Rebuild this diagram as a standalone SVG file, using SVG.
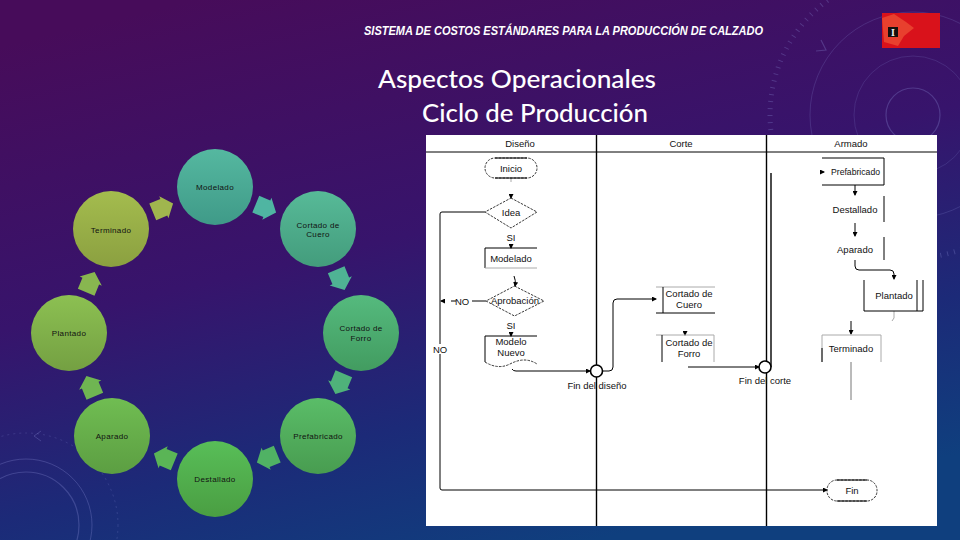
<svg xmlns="http://www.w3.org/2000/svg" width="960" height="540" viewBox="0 0 960 540">
<defs>
<linearGradient id="bg" x1="0.2" y1="0" x2="0.62" y2="1"><stop offset="0" stop-color="#470c5a"/><stop offset="0.45" stop-color="#37146c"/><stop offset="0.75" stop-color="#1c2a78"/><stop offset="1" stop-color="#0f3f7e"/></linearGradient>
<linearGradient id="g1" x1="0" y1="0" x2="0" y2="1"><stop offset="0" stop-color="#55b8a0"/><stop offset="1" stop-color="#3f9a88"/></linearGradient>
<linearGradient id="g2" x1="0" y1="0" x2="0" y2="1"><stop offset="0" stop-color="#57ba98"/><stop offset="1" stop-color="#439c7c"/></linearGradient>
<linearGradient id="g3" x1="0" y1="0" x2="0" y2="1"><stop offset="0" stop-color="#55ba7e"/><stop offset="1" stop-color="#429c60"/></linearGradient>
<linearGradient id="g4" x1="0" y1="0" x2="0" y2="1"><stop offset="0" stop-color="#5abd68"/><stop offset="1" stop-color="#489c50"/></linearGradient>
<linearGradient id="g5" x1="0" y1="0" x2="0" y2="1"><stop offset="0" stop-color="#58be58"/><stop offset="1" stop-color="#4a9e42"/></linearGradient>
<linearGradient id="g6" x1="0" y1="0" x2="0" y2="1"><stop offset="0" stop-color="#70bd52"/><stop offset="1" stop-color="#5c9e42"/></linearGradient>
<linearGradient id="g7" x1="0" y1="0" x2="0" y2="1"><stop offset="0" stop-color="#8cc052"/><stop offset="1" stop-color="#74a042"/></linearGradient>
<linearGradient id="g8" x1="0" y1="0" x2="0" y2="1"><stop offset="0" stop-color="#a4bc4e"/><stop offset="1" stop-color="#8ba040"/></linearGradient>
<path id="blk" d="M-10,-9 L2,-9 L2,-12 L12,0 L2,12 L2,9 L-10,9 Z"/>
<marker id="ah" markerWidth="5" markerHeight="5" refX="4" refY="2.5" orient="auto" markerUnits="userSpaceOnUse"><path d="M0,0 L5,2.5 L0,5 Z" fill="#000"/></marker>
</defs>
<style>
.c text,.t{font-family:"Liberation Sans",Arial,sans-serif}
.c text{font-size:8px;fill:#111;text-anchor:middle;letter-spacing:.35px}
.t{font-size:9.5px;fill:#111;text-anchor:middle}
.l{fill:none;stroke:#000;stroke-width:1}
.g{fill:none;stroke:#aaa;stroke-width:1}
.h{fill:none;stroke:#000;stroke-width:1.4}
.d{fill:none;stroke:#222;stroke-width:.9;stroke-dasharray:2.5 1.2}
.deco{fill:none;stroke:#8a8fd8;stroke-opacity:.3}
</style>
<rect width="960" height="540" fill="url(#bg)"/>
<g id="decoration">
<circle cx="26" cy="525" r="53" class="deco" stroke-width="1.2"/>
<circle cx="26" cy="525" r="66" class="deco" stroke-width="1"/>
<circle cx="26" cy="525" r="92" class="deco" stroke-width=".7" stroke-dasharray="2 4"/>
<path class="deco" stroke-width="1" d="M41,431 L34,436 L41,441 M89,458 L95,461 L91,466"/>
<circle cx="913" cy="115" r="27" class="deco" stroke-width="1.2"/>
<circle cx="913" cy="115" r="59" class="deco" stroke-width=".6" stroke-opacity=".18"/>
<circle cx="913" cy="115" r="103" class="deco" stroke-width=".7" stroke-opacity=".22"/>
<circle cx="913" cy="115" r="143" class="deco" stroke-width="5" stroke-dasharray="1 6" stroke-opacity=".12"/>
<path class="deco" stroke-width="1.2" d="M821,40 L826,50 L816,51"/>
</g>
<g id="header">
<text x="364" y="35" textLength="399" lengthAdjust="spacingAndGlyphs" font-family="'Liberation Sans',sans-serif" font-size="13" font-weight="bold" font-style="italic" fill="#fff">SISTEMA DE COSTOS ESTÁNDARES PARA LA PRODUCCIÓN DE CALZADO</text>
<text x="378" y="88" textLength="278" lengthAdjust="spacingAndGlyphs" font-family="Lato,sans-serif" font-size="24" font-weight="500" fill="#fff">Aspectos Operacionales</text>
<text x="422" y="122" textLength="226" lengthAdjust="spacingAndGlyphs" font-family="Lato,sans-serif" font-size="24" font-weight="500" fill="#fff">Ciclo de Producción</text>
</g>
<g id="logo">
<rect x="882" y="13" width="58" height="35" fill="#d9121b"/>
<path d="M882,18 L894,14 L906,22 L914,28 L904,36 L898,46 L884,42 Z" fill="#e8402e"/>
<rect x="888" y="27" width="10" height="10" fill="#15100e"/>
<text x="893" y="35.5" font-family="'Liberation Serif',serif" font-size="10" font-weight="bold" fill="#eee" text-anchor="middle">I</text>
</g>
<g id="cycle-arrows">
<use href="#blk" fill="#4fb5a2" transform="translate(265,208) rotate(22.5)"/>
<use href="#blk" fill="#4fb394" transform="translate(340,279) rotate(67.5)"/>
<use href="#blk" fill="#4fb27a" transform="translate(340,383) rotate(112.5)"/>
<use href="#blk" fill="#50b264" transform="translate(268,458) rotate(157.5)"/>
<use href="#blk" fill="#5ab556" transform="translate(165,458) rotate(202.5)"/>
<use href="#blk" fill="#6fb552" transform="translate(91,387) rotate(247.5)"/>
<use href="#blk" fill="#88b650" transform="translate(90,283) rotate(292.5)"/>
<use href="#blk" fill="#a0b64e" transform="translate(162,208) rotate(337.5)"/>
</g>
<g id="modelado" class="c"><circle cx="215" cy="187" r="38" fill="url(#g1)"/><text x="215" y="190">Modelado</text></g>
<g id="cortado-cuero" class="c"><circle cx="318" cy="229" r="38" fill="url(#g2)"/><text x="318" y="228">Cortado de</text><text x="318" y="237">Cuero</text></g>
<g id="cortado-forro" class="c"><circle cx="361" cy="333" r="38" fill="url(#g3)"/><text x="361" y="331">Cortado de</text><text x="361" y="341">Forro</text></g>
<g id="prefabricado" class="c"><circle cx="318" cy="436" r="38" fill="url(#g4)"/><text x="318" y="439">Prefabricado</text></g>
<g id="destallado" class="c"><circle cx="215" cy="479" r="38" fill="url(#g5)"/><text x="215" y="482">Destallado</text></g>
<g id="aparado" class="c"><circle cx="112" cy="436" r="38" fill="url(#g6)"/><text x="112" y="439">Aparado</text></g>
<g id="plantado" class="c"><circle cx="69" cy="333" r="38" fill="url(#g7)"/><text x="69" y="336">Plantado</text></g>
<g id="terminado" class="c"><circle cx="111" cy="229" r="38" fill="url(#g8)"/><text x="111" y="233">Terminado</text></g>
<g id="flow-panel">
<rect x="426" y="135" width="511" height="391" fill="#fff"/>
<path class="l" d="M426,152 H937"/>
<path class="h" d="M596.5,135 V526 M766.5,135 V526"/>
<text class="t" x="520" y="147">Diseño</text><text class="t" x="681" y="147">Corte</text><text class="t" x="851" y="147">Armado</text>
</g>
<g id="connectors">
<path class="l" d="M485,212 H442 Q440,212 440,214 V488 Q440,490 442,490 H827" marker-end="url(#ah)"/>
<path class="g" d="M511,178 V182"/>
<path class="l" d="M511,194 V198" marker-end="url(#ah)"/>
<path class="l" d="M511,244 V248" marker-end="url(#ah)"/>
<path class="l" d="M514,276 Q516,280 515,286" marker-end="url(#ah)"/>
<path class="l" d="M486,301 H472 M456,301 H451"/>
<path class="l" d="M445,301 H441" marker-end="url(#ah)"/>
<path class="l" d="M511,332 V336" marker-end="url(#ah)"/>
<path class="l" d="M512,369 Q513,371 516,371 H590" marker-end="url(#ah)"/>
<path class="l" d="M602,371 H609 Q613,371 613,367 V303 Q613,299 617,299 H656" marker-end="url(#ah)"/>
<path class="l" d="M685,331 V335" marker-end="url(#ah)"/>
<path class="l" d="M688,367 H759" marker-end="url(#ah)"/>
<path class="h" d="M771,367 V173"/>
<path class="l" d="M820,172 H824" marker-end="url(#ah)"/>
<path class="l" d="M855,185 V195" marker-end="url(#ah)"/>
<path class="l" d="M855,223 V236" marker-end="url(#ah)"/>
<path class="l" d="M855,260 V266 Q855,270 859,270 H890 Q894,270 894,274 V279" marker-end="url(#ah)" stroke-width=".8"/>
<path class="g" d="M894,311 V318 L892,321"/>
<path class="l" d="M851,321 V334" marker-end="url(#ah)"/>
<path d="M851,362 V400" stroke="#777" fill="none"/>
</g>
<g id="inicio"><rect x="485" y="158" width="52" height="20" rx="10" class="d"/><path class="l" d="M495,158 H527 M495,178 H527"/><text class="t" x="511" y="172">Inicio</text></g>
<g id="idea"><path class="d" d="M511,198 L537,212 L511,228 L485,212 Z"/><text class="t" x="511" y="216">Idea</text></g>
<g id="si-1"><text class="t" x="511" y="241">SI</text></g>
<g id="modelado-step"><path class="l" d="M537,248 H485 V268"/><path class="g" d="M485,268 H537"/><text class="t" x="511" y="262">Modelado</text></g>
<g id="aprobacion"><path class="d" d="M514.5,286 L544,301 L514.5,316 L486,301 Z"/><text class="t" x="515" y="304" textLength="48" lengthAdjust="spacingAndGlyphs">Aprobación</text></g>
<g id="no-1"><text class="t" x="462" y="305">NO</text></g>
<g id="si-2"><text class="t" x="511" y="329">SI</text></g>
<g id="modelo-nuevo"><path class="l" d="M537,336 H485 V362"/><path class="d" d="M485,362 Q498,370 510,364 Q525,356 537,364"/><text class="t" x="511" y="345">Modelo</text><text class="t" x="511" y="356">Nuevo</text></g>
<g id="no-2"><rect x="434" y="344" width="12" height="10" fill="#fff"/><text class="t" x="440" y="353">NO</text></g>
<g id="fin-diseno"><circle cx="596.5" cy="371" r="6" fill="#fff" stroke="#000" stroke-width="1.6"/><text class="t" x="597" y="389">Fin del diseño</text></g>
<g id="cortado-cuero-step"><path class="g" d="M656,287 H715"/><path class="l" d="M663,287 V313 M656,313 H715"/><text class="t" x="689" y="297">Cortado de</text><text class="t" x="689" y="308">Cuero</text></g>
<g id="cortado-forro-step"><path class="g" d="M656,335 H714 V362"/><path class="l" d="M662,335 V362"/><text class="t" x="689" y="346">Cortado de</text><text class="t" x="689" y="357">Forro</text></g>
<g id="fin-corte"><circle cx="765" cy="367" r="6" fill="#fff" stroke="#000" stroke-width="1.6"/><text class="t" x="765" y="384">Fin del corte</text></g>
<g id="prefabricado-step"><path class="l" d="M822,158 H884 V185 H822"/><text class="t" x="855.5" y="175" textLength="49" lengthAdjust="spacingAndGlyphs">Prefabricado</text></g>
<g id="destallado-step"><path class="l" d="M884,196 V222"/><text class="t" x="855" y="213">Destallado</text></g>
<g id="aparado-step"><path class="l" d="M884,237 V260"/><text class="t" x="855" y="253">Aparado</text></g>
<g id="plantado-step"><path class="l" d="M864,280 V311 H923 V280 M917,280 V311"/><text class="t" x="894" y="299">Plantado</text></g>
<g id="terminado-step"><path class="g" d="M822,362 V335 H881 V362"/><path class="l" d="M822,348 V362"/><text class="t" x="851" y="352">Terminado</text></g>
<g id="fin"><rect x="827" y="480" width="50" height="21" rx="10" class="d"/><path class="l" d="M837,480 H867 M837,501 H867"/><text class="t" x="852" y="494">Fin</text></g>
</svg>
